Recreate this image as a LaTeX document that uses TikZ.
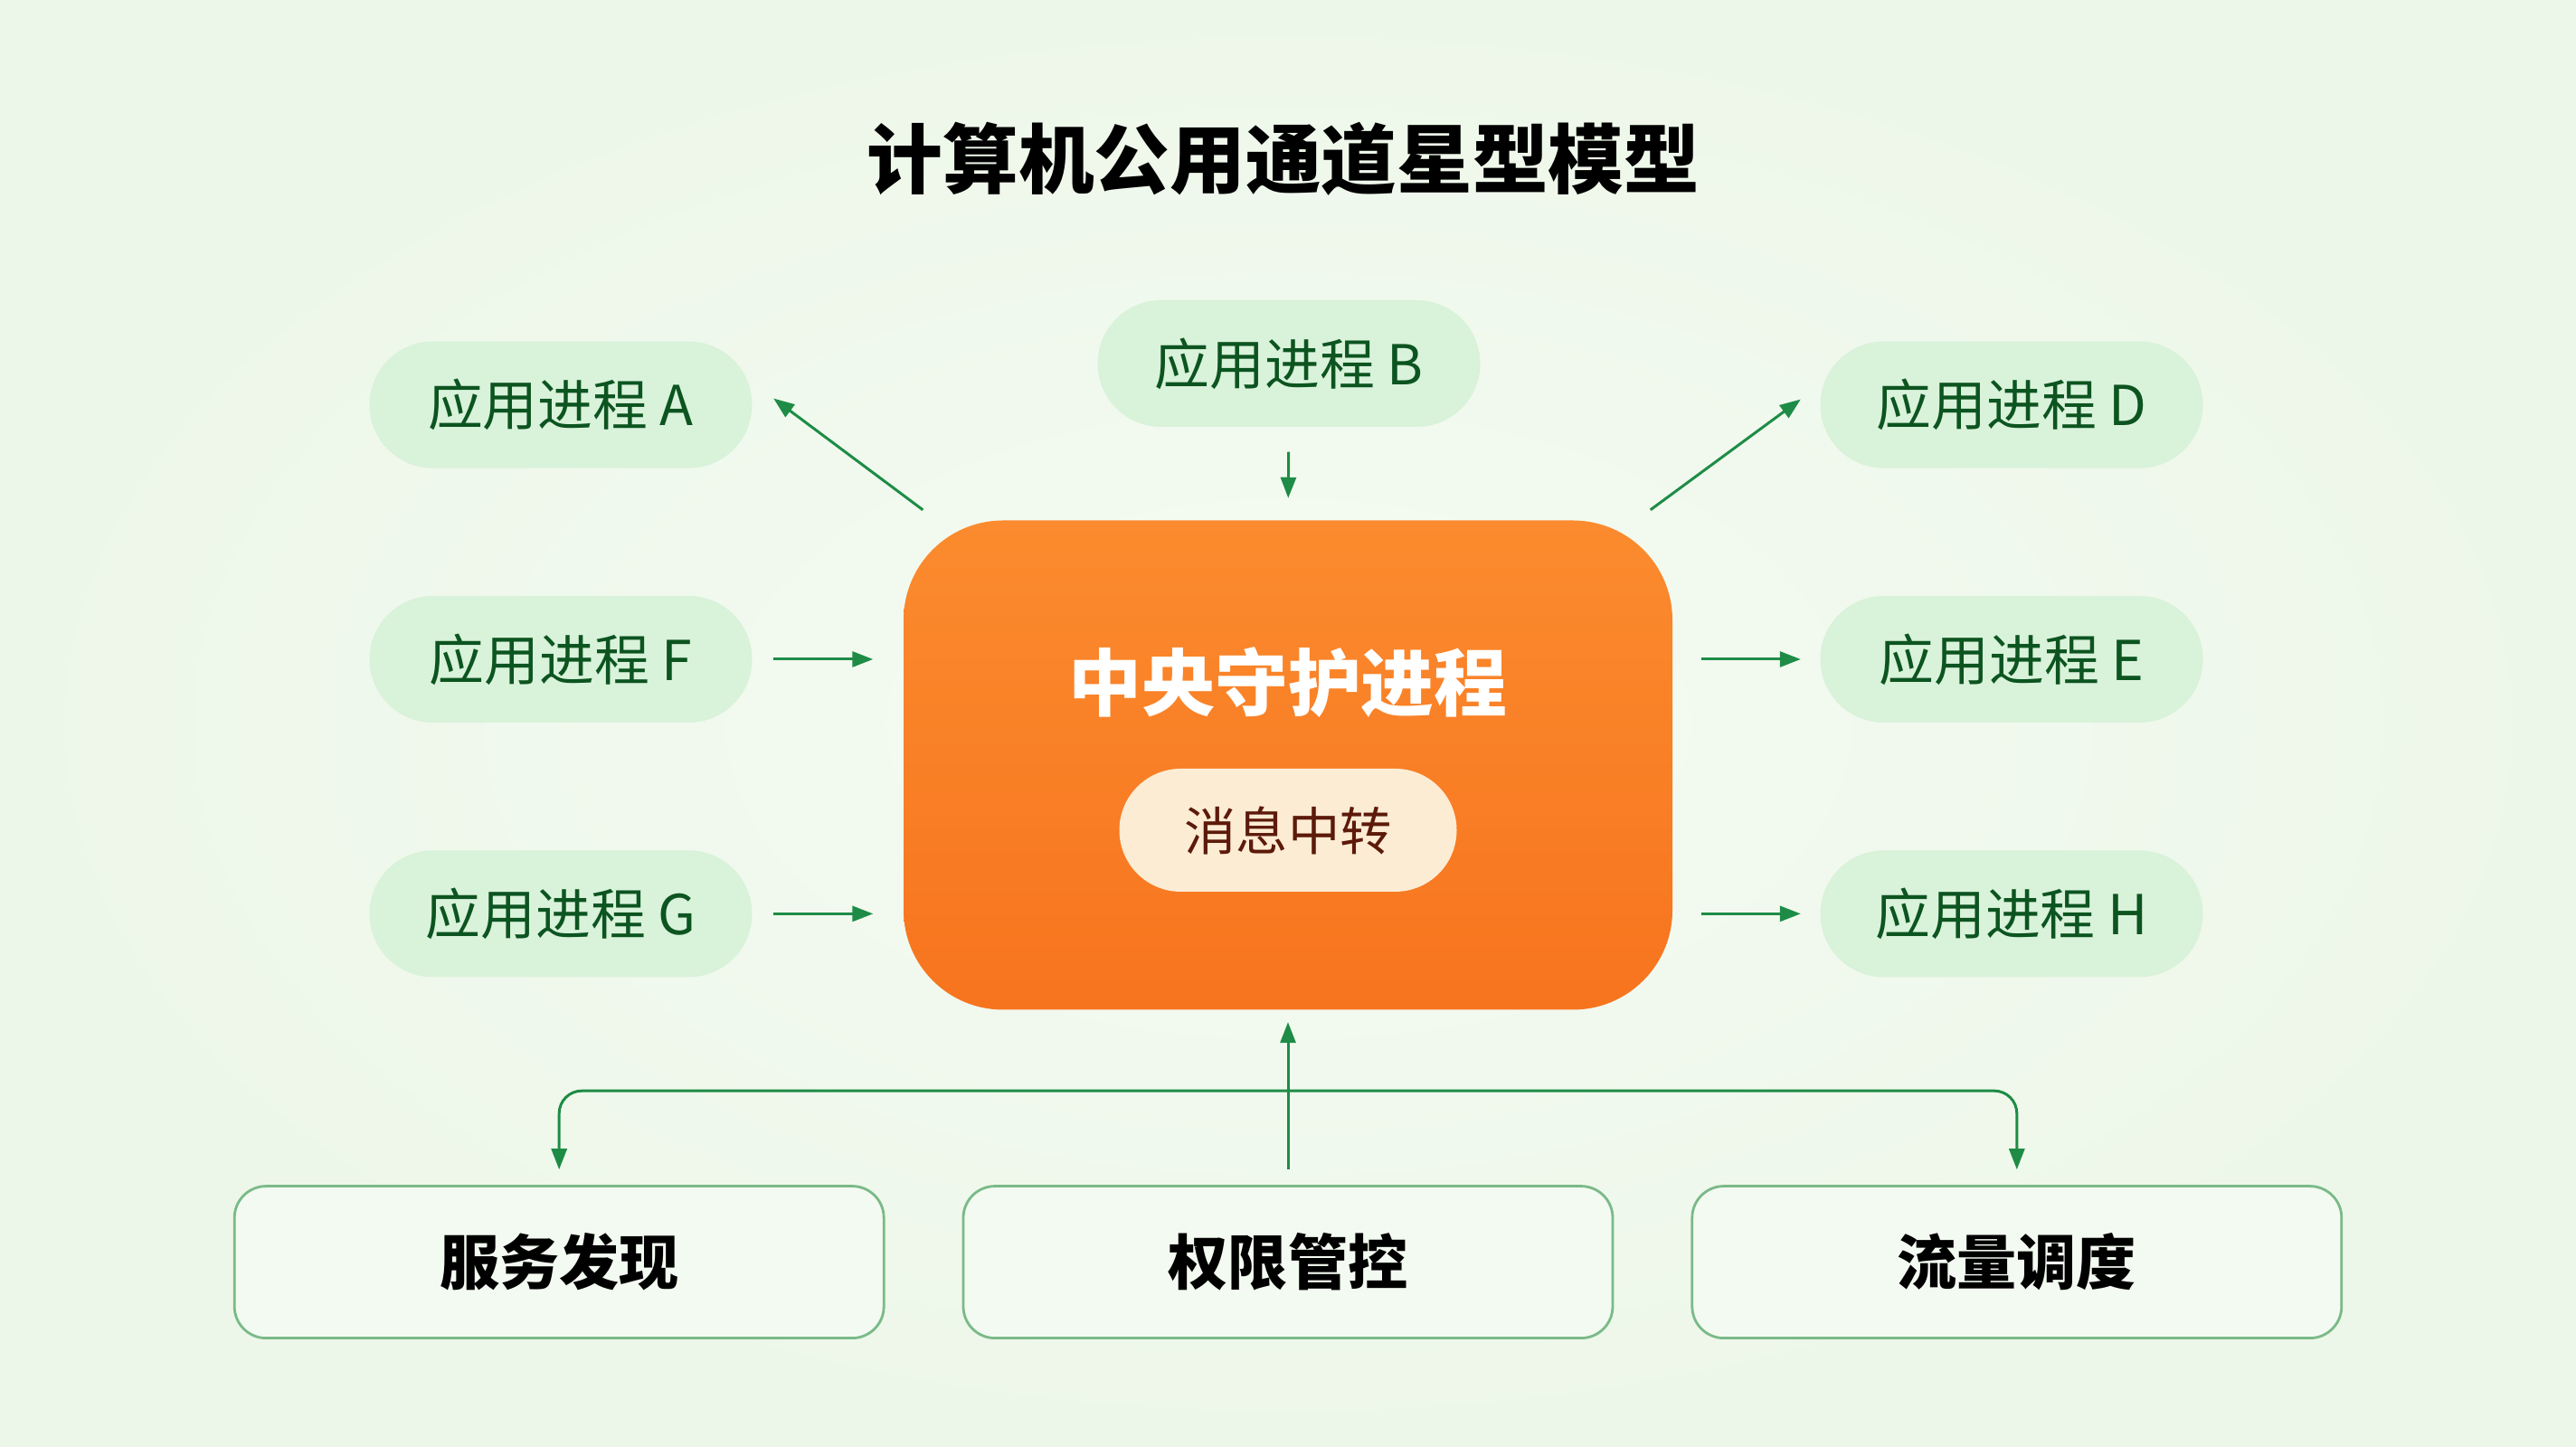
\documentclass[tikz,border=0pt]{standalone}
\usepackage{fontspec}
\setmainfont{Noto Sans CJK SC}
\usepackage{tikz}
\usetikzlibrary{positioning,arrows.meta,calc}
\usepackage{xcolor}
\definecolor{bgmid}{RGB}{245,251,243}
\definecolor{bgedge}{RGB}{237,247,233}
\definecolor{procfill}{RGB}{217,242,218}
\definecolor{proctext}{RGB}{12,84,32}
\definecolor{link}{RGB}{30,140,70}
\definecolor{coretop}{RGB}{251,139,46}
\definecolor{corebot}{RGB}{247,116,30}
\definecolor{relayfill}{RGB}{253,236,212}
\definecolor{relaytext}{RGB}{92,26,10}
\definecolor{funcline}{RGB}{122,186,136}
\definecolor{funcfill}{RGB}{243,250,241}

\begin{document}
\begin{tikzpicture}[
    proc/.style={fill=procfill, text=proctext, rounded corners=7mm, minimum width=4.23cm, minimum height=1.4cm, inner sep=0pt, align=center, font=\fontsize{17.3}{20}\selectfont},
    core/.style={top color=coretop, bottom color=corebot, rounded corners=11mm, minimum width=8.5cm, minimum height=5.41cm, inner sep=0pt},
    relay/.style={fill=relayfill, text=relaytext, rounded corners=6.8mm, minimum width=3.73cm, minimum height=1.36cm, inner sep=0pt, font=\fontsize{16.3}{19}\selectfont},
    funcblock/.style={draw=funcline, line width=0.8pt, fill=funcfill, rounded corners=3.5mm, minimum width=7.18cm, minimum height=1.68cm, inner sep=0pt, font=\bfseries\fontsize{18.8}{22}\selectfont},
    arrow/.style={-{Triangle[length=2.3mm, width=1.7mm]}, line width=0.85pt, color=link},
    node distance=1.4cm
]
    % Background
    \shade[inner color=bgmid, outer color=bgedge] (0,0) rectangle (28.48,16);
    \useasboundingbox (0,0) rectangle (28.48,16);

    % Title
    \node[font=\bfseries\fontsize{23.8}{28}\selectfont] (title) at (14.19,14.24) {计算机公用通道星型模型};

    % Central daemon
    \node[core] (core) at (14.24,7.54) {};
    \node[text=white, font=\bfseries\fontsize{23}{28}\selectfont] (coretxt) at ($(core.center)+(0,0.91)$) {中央守护进程};
    \node[relay] (relay) at ($(core.center)+(0,-0.72)$) {消息中转};

    % Application processes, left column
    \node[proc] (F) at (6.20,8.71) {应用进程 F};
    \node[proc, above=of F] (A) {应用进程 A};
    \node[proc, below=of F] (G) {应用进程 G};

    % Application processes, right column
    \node[proc] (E) at (22.24,8.71) {应用进程 E};
    \node[proc, above=of E] (D) {应用进程 D};
    \node[proc, below=of E] (H) {应用进程 H};

    % Top process
    \node[proc] (B) at (14.25,11.98) {应用进程 B};

    % Function blocks
    \node[funcblock, below=1.93cm of core] (perm) {权限管控};
    \node[funcblock, left=0.85cm of perm] (svc) {服务发现};
    \node[funcblock, right=0.85cm of perm] (flow) {流量调度};

    % Arrows to and from the daemon
    \draw[arrow] ($(core.north west)+(0.22,0.11)$) -- ($(A.east)+(0.23,0.07)$);
    \draw[arrow] ($(core.north east)+(-0.25,0.11)$) -- ($(D.west)+(-0.21,0.06)$);
    \draw[arrow, shorten <=2.7mm, shorten >=2.4mm] (B.south) -- (core.north);
    \draw[arrow, shorten <=2.3mm, shorten >=3.3mm] (F.east) -- (F.east -| core.west);
    \draw[arrow, shorten <=2.3mm, shorten >=3.3mm] (G.east) -- (G.east -| core.west);
    \draw[arrow, shorten <=3.1mm, shorten >=2.1mm] (E.west -| core.east) -- (E.west);
    \draw[arrow, shorten <=3.1mm, shorten >=2.1mm] (H.west -| core.east) -- (H.west);

    % Control branch
    \coordinate (hub) at ($(perm.north)+(0,1.04)$);
    \draw[arrow, shorten <=1.7mm, shorten >=1.3mm] (perm.north) -- (core.south);
    \draw[arrow, rounded corners=2.5mm, shorten >=1.7mm] (hub) -| (svc.north);
    \draw[arrow, rounded corners=2.5mm, shorten >=1.7mm] (hub) -| (flow.north);
\end{tikzpicture}
\end{document}
